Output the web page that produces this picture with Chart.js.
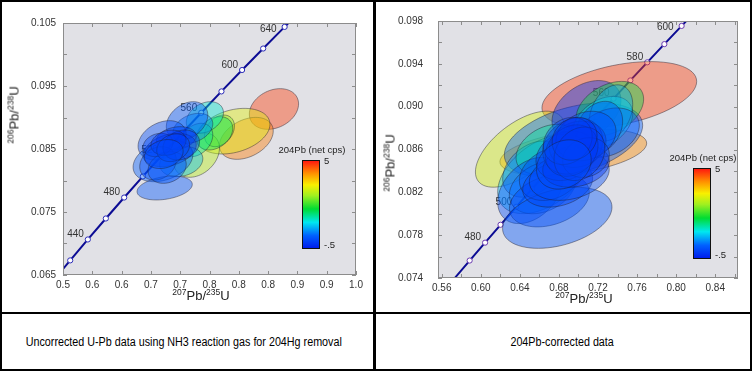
<!DOCTYPE html>
<html>
<head>
<meta charset="utf-8">
<title>U-Pb concordia</title>
<script src="https://cdn.jsdelivr.net/npm/chart.js@4.4.1/dist/chart.umd.min.js"></script>
<style>
  html, body { margin: 0; padding: 0; background: #fff; }
  #page { position: relative; width: 752px; height: 371px; overflow: hidden; background: #fff; }
  #page canvas { position: absolute; top: 0; }
  #cvLeft { left: 0; }
  #cvRight { left: 376px; }
  .rule { position: absolute; background: #000; z-index: 5; }
  .axt { position: absolute; font: 13px 'Liberation Sans', Arial, sans-serif; color: #222; white-space: nowrap; transform: translate(-50%, -50%); }
  .axt.rot { transform: translate(-50%, -50%) rotate(-90deg); }
  .axt sup { font-size: 8.5px; vertical-align: 0; position: relative; top: -5px; }
  .cap { position: absolute; top: 314px; height: 55px; display: flex; align-items: center; justify-content: center; }
  .cap span { display: inline-block; white-space: nowrap; font: 12.5px 'Liberation Sans', Arial, sans-serif; color: #000; transform: scaleX(0.86); }
</style>
</head>
<body>
<div id="page">
  <canvas id="cvLeft" width="373" height="312"></canvas>
  <canvas id="cvRight" width="376" height="312"></canvas>

  <div class="axt rot" style="left:14px; top:115px"><sup>206</sup>Pb/<sup>238</sup>U</div>
  <div class="axt" style="left:201px; top:295px"><sup>207</sup>Pb/<sup>235</sup>U</div>
  <div class="axt rot" style="left:390px; top:163px"><sup>206</sup>Pb/<sup>238</sup>U</div>
  <div class="axt" style="left:584px; top:298px"><sup>207</sup>Pb/<sup>235</sup>U</div>

  <div class="cap" style="left:2px; width:364px"><span>Uncorrected U-Pb data using NH3 reaction gas for 204Hg removal</span></div>
  <div class="cap" style="left:376px; width:373px"><span>204Pb-corrected data</span></div>

  <div class="rule" style="left:0; top:0; width:752px; height:2px"></div>
  <div class="rule" style="left:0; top:369px; width:752px; height:2px"></div>
  <div class="rule" style="left:0; top:0; width:2px; height:371px"></div>
  <div class="rule" style="left:750px; top:0; width:2px; height:371px"></div>
  <div class="rule" style="left:373px; top:0; width:3px; height:371px"></div>
  <div class="rule" style="left:0; top:312px; width:752px; height:2px"></div>
</div>

<script>
/* ── Concordia (20 Ma steps on the left panel, 10 Ma on the right) ── */
const leftAges = [400, 420, 440, 460, 480, 500, 520, 540, 560, 580, 600, 620, 640, 660];
const leftR75  = [0.4828, 0.5123, 0.5424, 0.5731, 0.6044, 0.6363, 0.6688, 0.7020, 0.7359, 0.7704, 0.8056, 0.8416, 0.8782, 0.9155];
const leftR68  = [0.06402, 0.06732, 0.07064, 0.07397, 0.07730, 0.08065, 0.08401, 0.08738, 0.09075, 0.09414, 0.09754, 0.10095, 0.10438, 0.10781];
const leftLabelAges = [440, 480, 520, 560, 600, 640];

const rightAges = [460, 470, 480, 490, 500, 510, 520, 530, 540, 550, 560, 570, 580, 590, 600, 610];
const rightR75  = [0.5731, 0.5886, 0.6044, 0.6202, 0.6363, 0.6525, 0.6688, 0.6853, 0.7020, 0.7189, 0.7359, 0.7531, 0.7704, 0.7879, 0.8056, 0.8235];
const rightR68  = [0.07397, 0.07563, 0.07730, 0.07897, 0.08065, 0.08233, 0.08401, 0.08569, 0.08738, 0.08906, 0.09075, 0.09245, 0.09414, 0.09584, 0.09754, 0.09925];
const rightLabelAges = [480, 500, 520, 540, 560, 580, 600];

/* ── Tick labels ── */
const leftXLabels  = ['0.5', '0.6', '0.7', '0.8', '0.9', '1.0'];
const leftYLabels  = ['0.065', '0.075', '0.085', '0.095', '0.105'];
const rightXLabels = ['0.56', '0.60', '0.64', '0.68', '0.72', '0.76', '0.80', '0.84'];
const rightYLabels = ['0.074', '0.078', '0.082', '0.086', '0.090', '0.094', '0.098'];

/* ── Error ellipses: centre, half-widths, correlation, 204Pb (net cps) ── */
const leftEllX   = [0.8600, 0.8129, 0.7908, 0.7279, 0.7670, 0.7585, 0.7421, 0.7273, 0.7216, 0.7117, 0.6692, 0.7018, 0.6706, 0.6735, 0.6933, 0.6820, 0.6621, 0.6777, 0.6621, 0.7018, 0.6800, 0.6880, 0.6720];
const leftEllY   = [0.09135, 0.08669, 0.08783, 0.08405, 0.08788, 0.08749, 0.09000, 0.08643, 0.08828, 0.08947, 0.08638, 0.08299, 0.08312, 0.07881, 0.08669, 0.08484, 0.08272, 0.08206, 0.08564, 0.08564, 0.08600, 0.08520, 0.08420];
const leftEllSx  = [0.0420, 0.0459, 0.0624, 0.0391, 0.0255, 0.0312, 0.0317, 0.0283, 0.0340, 0.0354, 0.0411, 0.0368, 0.0510, 0.0471, 0.0340, 0.0454, 0.0312, 0.0326, 0.0255, 0.0312, 0.0300, 0.0280, 0.0330];
const leftEllSy  = [0.00323, 0.00333, 0.00362, 0.00354, 0.00251, 0.00265, 0.00251, 0.00265, 0.00238, 0.00304, 0.00312, 0.00238, 0.00331, 0.00190, 0.00185, 0.00265, 0.00265, 0.00251, 0.00185, 0.00238, 0.00200, 0.00220, 0.00230];
const leftEllRho = [0.25, 0.35, 0.30, 0.30, 0.30, 0.30, 0.30, 0.30, 0.30, 0.30, 0.30, 0.20, 0.30, 0.30, 0.20, 0.30, 0.20, 0.20, 0.20, 0.20, 0.20, 0.20, 0.20];
const leftEllPb  = [4.7, 4.3, 3.3, 3.0, 2.6, 1.8, 1.3, 1.5, 0.5, 0.2, 0.1, 0.9, 0.3, 0.2, 0.0, -0.1, 0.1, 0.2, 0.0, -0.2, -0.2, 0.0, 0.1];

const rightEllX   = [0.7418, 0.6947, 0.6400, 0.6949, 0.7082, 0.7321, 0.7248, 0.7333, 0.7299, 0.7213, 0.6642, 0.6531, 0.6668, 0.6506, 0.6633, 0.6702, 0.6783, 0.6719, 0.6787, 0.6906, 0.6872, 0.6975, 0.6941, 0.6992, 0.7077, 0.7077, 0.6930, 0.6890, 0.7010, 0.6960, 0.6850];
const rightEllY   = [0.09112, 0.08572, 0.08603, 0.08687, 0.08962, 0.08981, 0.08849, 0.08942, 0.08757, 0.08803, 0.08371, 0.08417, 0.08603, 0.08217, 0.08247, 0.08124, 0.07962, 0.08371, 0.08278, 0.08356, 0.08541, 0.08448, 0.08633, 0.08649, 0.08726, 0.08525, 0.08590, 0.08680, 0.08560, 0.08700, 0.08460];
const rightEllSx  = [0.0792, 0.0751, 0.0455, 0.0708, 0.0353, 0.0346, 0.0307, 0.0222, 0.0324, 0.0239, 0.0469, 0.0307, 0.0307, 0.0333, 0.0341, 0.0409, 0.0560, 0.0324, 0.0358, 0.0409, 0.0307, 0.0341, 0.0307, 0.0290, 0.0307, 0.0239, 0.0270, 0.0250, 0.0260, 0.0230, 0.0280];
const rightEllSy  = [0.00309, 0.00216, 0.00355, 0.00347, 0.00282, 0.00255, 0.00247, 0.00262, 0.00231, 0.00247, 0.00370, 0.00262, 0.00231, 0.00309, 0.00247, 0.00247, 0.00285, 0.00247, 0.00216, 0.00231, 0.00231, 0.00200, 0.00262, 0.00216, 0.00231, 0.00185, 0.00240, 0.00220, 0.00250, 0.00200, 0.00230];
const rightEllRho = [0.40, 0.40, 0.60, 0.40, 0.35, 0.35, 0.35, 0.30, 0.30, 0.25, 0.45, 0.35, 0.35, 0.35, 0.30, 0.30, 0.35, 0.25, 0.25, 0.25, 0.20, 0.20, 0.20, 0.15, 0.20, 0.15, 0.20, 0.20, 0.20, 0.15, 0.20];
const rightEllPb  = [4.7, 4.2, 3.2, 0.3, -0.2, 1.9, 1.1, 0.8, 0.3, 0.2, 0.9, 0.6, 1.5, 0.1, 0.4, 0.0, 0.2, 0.1, 0.0, 0.1, -0.1, -0.2, -0.1, -0.2, 0.1, 0.0, -0.2, 0.0, -0.1, -0.2, 0.1];

const PB_MIN = -0.5, PB_MAX = 5;

/* ── colour scale (jet-like, as in the legend bar) ── */
const STOPS = [
  [0.00, [0, 24, 236]], [0.15, [0, 96, 255]], [0.30, [0, 232, 240]], [0.45, [0, 220, 50]],
  [0.60, [160, 240, 32]], [0.72, [248, 240, 0]], [0.85, [255, 144, 0]], [1.00, [255, 16, 16]],
];
function jet(f) {
  f = Math.max(0, Math.min(1, f));
  for (let i = 1; i < STOPS.length; i++) {
    if (f <= STOPS[i][0]) {
      const [f0, c0] = STOPS[i - 1], [f1, c1] = STOPS[i];
      const t = (f - f0) / (f1 - f0);
      return c0.map((c, k) => Math.round(c + (c1[k] - c) * t));
    }
  }
  return STOPS[STOPS.length - 1][1];
}
const rgba = (c, a) => `rgba(${c[0]},${c[1]},${c[2]},${a})`;

const FONT = '"Liberation Sans", Arial, sans-serif';

function concordiaPlugin(p) {
  return {
    id: 'concordia',
    beforeDraw(chart) {
      const { ctx, chartArea: a } = chart;
      ctx.save();
      ctx.fillStyle = '#e1e1e6';
      ctx.fillRect(a.left, a.top, a.right - a.left, a.bottom - a.top);
      ctx.restore();
    },
    beforeDatasetsDraw(chart) {
      // age labels, left of the markers (they end up under the ellipses)
      const { ctx, chartArea: a, scales: { x, y } } = chart;
      ctx.save();
      ctx.beginPath(); ctx.rect(a.left, a.top, a.right - a.left, a.bottom - a.top); ctx.clip();
      ctx.font = '10px ' + FONT;
      ctx.fillStyle = '#333';
      ctx.textAlign = 'right';
      ctx.textBaseline = 'middle';
      p.labelAges.forEach(age => {
        const i = p.ages.indexOf(age);
        const px = x.getPixelForValue(p.r75[i]), py = y.getPixelForValue(p.r68[i]);
        const top = py - 5 < a.top + 7;           // keep the top label inside the frame
        ctx.fillText(String(age), px - (top ? 8 : 4), top ? a.top + 6 : py - 5);
      });
      ctx.restore();
    },
    afterDatasetsDraw(chart) {
      const { ctx, chartArea: a, scales: { x, y } } = chart;

      /* ellipses */
      ctx.save();
      ctx.beginPath(); ctx.rect(a.left, a.top, a.right - a.left, a.bottom - a.top); ctx.clip();
      p.ex.forEach((cx, i) => {
        const cy = p.ey[i], sx = p.esx[i], sy = p.esy[i], r = p.erho[i];
        const q = Math.sqrt(1 - r * r);
        ctx.beginPath();
        for (let k = 0; k <= 72; k++) {
          const t = k / 72 * Math.PI * 2;
          const px = x.getPixelForValue(cx + sx * Math.cos(t));
          const py = y.getPixelForValue(cy + sy * (r * Math.cos(t) + q * Math.sin(t)));
          k ? ctx.lineTo(px, py) : ctx.moveTo(px, py);
        }
        ctx.closePath();
        ctx.fillStyle = rgba(jet((p.epb[i] - PB_MIN) / (PB_MAX - PB_MIN)), 0.42);
        ctx.fill();
        ctx.strokeStyle = 'rgba(30,30,45,0.55)';
        ctx.lineWidth = 0.8;
        ctx.stroke();
      });
      ctx.restore();

      /* frame + inward ticks on all four sides */
      ctx.save();
      ctx.strokeStyle = '#8c8c8c';
      ctx.lineWidth = 1;
      ctx.strokeRect(a.left + 0.5, a.top + 0.5, a.right - a.left - 1, a.bottom - a.top - 1);
      ctx.beginPath();
      x.ticks.forEach(t => {
        const px = Math.round(x.getPixelForValue(t.value)) + 0.5;
        ctx.moveTo(px, a.bottom); ctx.lineTo(px, a.bottom - 4);
        ctx.moveTo(px, a.top); ctx.lineTo(px, a.top + 4);
      });
      y.ticks.forEach(t => {
        const py = Math.round(y.getPixelForValue(t.value)) + 0.5;
        ctx.moveTo(a.left, py); ctx.lineTo(a.left + 4, py);
        ctx.moveTo(a.right, py); ctx.lineTo(a.right - 4, py);
      });
      ctx.stroke();
      ctx.restore();

      /* colour bar legend */
      const b = p.bar;
      const bx = a.right + b.dx, by = a.top + b.dy;
      ctx.save();
      const g = ctx.createLinearGradient(0, by + b.h, 0, by);
      STOPS.forEach(([f, c]) => g.addColorStop(f, rgba(c, 1)));
      ctx.fillStyle = g;
      ctx.fillRect(bx, by, b.w, b.h);
      ctx.strokeStyle = '#111';
      ctx.lineWidth = 1;
      ctx.strokeRect(bx + 0.5, by + 0.5, b.w - 1, b.h - 1);
      ctx.fillStyle = '#222';
      ctx.font = '9.5px ' + FONT;
      ctx.textAlign = 'center';
      ctx.textBaseline = 'middle';
      ctx.fillText('204Pb (net cps)', bx + b.w / 2 + 1, by - 10);
      ctx.textAlign = 'left';
      ctx.fillText(String(PB_MAX), bx + b.w + 4, by + 1);
      ctx.fillText('-.5', bx + b.w + 4, by + b.h - 4);
      ctx.restore();
    },
  };
}

function makeChart(id, p) {
  const last = p.ages.length - 1;
  const tickFont = { family: FONT, size: 10 };
  return new Chart(document.getElementById(id), {
    type: 'scatter',
    data: {
      datasets: [{
        data: p.ages.map((age, i) => ({ x: p.r75[i], y: p.r68[i] })),
        showLine: true,
        borderColor: '#0c0c94',
        borderWidth: 2,
        clip: 0,
        pointRadius: c => (c.dataIndex === 0 || c.dataIndex === last) ? 0 : 2.6,
        pointBackgroundColor: '#fff',
        pointBorderColor: p.markerColor,
        pointBorderWidth: 1,
      }],
    },
    options: {
      responsive: false,
      animation: false,
      events: [],
      layout: { padding: p.pad },
      plugins: { legend: { display: false }, tooltip: { enabled: false } },
      scales: {
        x: {
          type: 'linear', min: p.xMin, max: p.xMax,
          grid: { display: false, drawTicks: false }, border: { display: false },
          ticks: {
            stepSize: p.xStep, includeBounds: false, autoSkip: false, maxRotation: 0,
            padding: 4, color: '#333', font: tickFont,
            callback: v => { const s = v.toFixed(p.xDec); return p.xLabels.includes(s) ? s : ''; },
          },
          afterFit: s => { s.height = p.xH; },
        },
        y: {
          type: 'linear', min: p.yMin, max: p.yMax,
          grid: { display: false, drawTicks: false }, border: { display: false },
          ticks: {
            stepSize: p.yStep, includeBounds: false, autoSkip: false,
            padding: p.yPad, color: '#333', font: tickFont,
            callback: v => { const s = v.toFixed(3); return p.yLabels.includes(s) ? s : ''; },
          },
          afterFit: s => { s.width = p.yW; },
        },
      },
    },
    plugins: [concordiaPlugin(p)],
  });
}

makeChart('cvLeft', {
  ages: leftAges, r75: leftR75, r68: leftR68, labelAges: leftLabelAges,
  ex: leftEllX, ey: leftEllY, esx: leftEllSx, esy: leftEllSy, erho: leftEllRho, epb: leftEllPb,
  xMin: 0.5, xMax: 1.0, xStep: 0.05, xDec: 1, xLabels: leftXLabels,
  yMin: 0.065, yMax: 0.105, yStep: 0.005, yLabels: leftYLabels,
  pad: { top: 23, right: 17, bottom: 0, left: 0 }, yW: 63, xH: 37, yPad: 7,
  markerColor: '#2a2ab8',
  bar: { dx: -54, dy: 137, w: 18, h: 89 },
});

makeChart('cvRight', {
  ages: rightAges, r75: rightR75, r68: rightR68, labelAges: rightLabelAges,
  ex: rightEllX, ey: rightEllY, esx: rightEllSx, esy: rightEllSy, erho: rightEllRho, epb: rightEllPb,
  xMin: 0.5562, xMax: 0.8633, xStep: 0.02, xDec: 2, xLabels: rightXLabels,
  yMin: 0.074, yMax: 0.098, yStep: 0.002, yLabels: rightYLabels,
  pad: { top: 19, right: 14, bottom: 0, left: 0 }, yW: 62, xH: 34, yPad: 15,
  markerColor: '#6a3ab0',
  bar: { dx: -45, dy: 147, w: 18, h: 91 },
});
</script>
</body>
</html>
